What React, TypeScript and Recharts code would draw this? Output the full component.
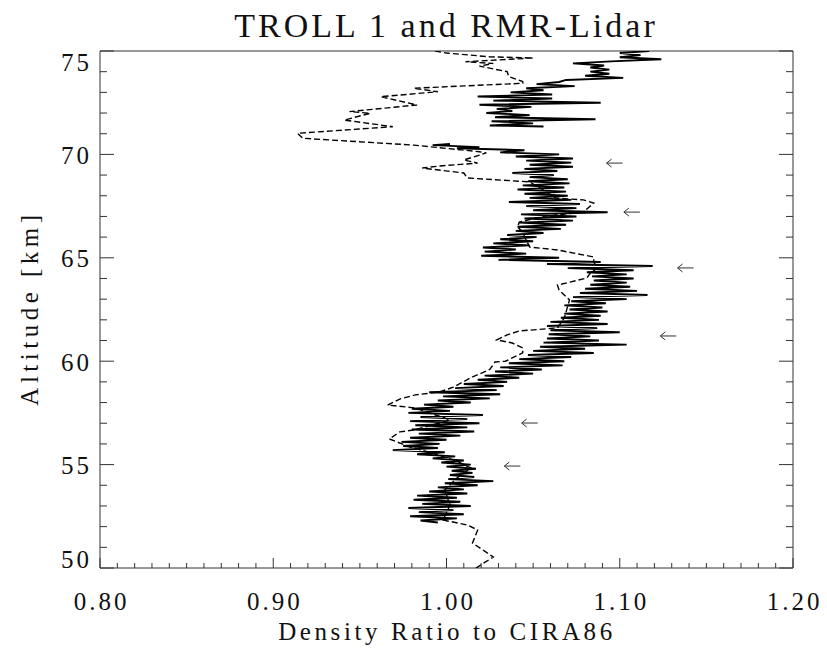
import React from "react";
import { ScatterChart, Scatter, XAxis, YAxis } from "recharts";

// [altitude km, density ratio] - RMR lidar profile (dashed)
const lidarProfile: [number, number][] = [
  [50.0, 1.017], [50.53, 1.027], [51.21, 1.015], [51.84, 1.018], [52.08, 1.012],
  [52.32, 0.998], [53.05, 1.002], [53.77, 0.999], [54.35, 1.006], [54.84, 1.014],
  [55.2, 1.005], [55.6, 0.99], [55.85, 0.979], [56.24, 0.967], [56.58, 0.973],
  [56.67, 0.981], [57.01, 0.996], [57.16, 1.002], [57.74, 0.982], [57.88, 0.966],
  [58.17, 0.973], [58.37, 0.982], [58.51, 0.996], [58.75, 1.004], [59.2, 1.014],
  [59.6, 1.025], [59.96, 1.028], [60.0, 1.034], [60.4, 1.044], [60.64, 1.044],
  [60.88, 1.038], [61.03, 1.029], [61.27, 1.035], [61.46, 1.042], [61.61, 1.064],
  [62.09, 1.068], [62.96, 1.071], [63.44, 1.065], [63.68, 1.064], [64.02, 1.081],
  [64.26, 1.083], [64.5, 1.087], [64.8, 1.085], [65.04, 1.085], [65.38, 1.064],
  [65.52, 1.048], [65.86, 1.046], [66.25, 1.044], [66.49, 1.041], [66.73, 1.042],
  [67.02, 1.057], [67.21, 1.079], [67.65, 1.085], [67.8, 1.079], [67.89, 1.063],
  [68.38, 1.054], [68.67, 1.048], [68.86, 1.012], [69.1, 1.01], [69.34, 0.986],
  [69.44, 0.996], [69.58, 1.018], [69.73, 1.01], [70.07, 1.023], [70.13, 1.019],
  [70.45, 0.981], [70.78, 0.917], [71.02, 0.914], [71.34, 0.969], [71.66, 0.941],
  [71.99, 0.956], [72.07, 0.944], [72.39, 0.983], [72.79, 0.962], [73.03, 0.995],
  [73.2, 0.981], [73.44, 1.044], [73.52, 1.044], [73.76, 1.036], [74.0, 1.035],
  [74.27, 1.019], [74.4, 1.027], [74.48, 1.011], [74.66, 1.05], [74.72, 1.025],
  [74.9, 1.0], [75.0, 0.993],
];

// TROLL 1 falling sphere, lower part (solid)
const trollLower: [number, number][] = [
  [52.2, 0.995], [52.3, 0.985], [52.4, 1.006], [52.5, 0.979], [52.6, 1.01],
  [52.7, 0.984], [52.8, 1.004], [52.9, 0.978], [53.0, 1.014], [53.1, 0.986],
  [53.2, 1.008], [53.3, 0.981], [53.4, 1.006], [53.5, 0.983], [53.6, 1.012],
  [53.7, 0.99], [53.8, 1.01], [53.9, 0.995], [54.0, 1.018], [54.1, 0.999],
  [54.2, 1.027], [54.3, 1.001], [54.4, 1.016], [54.5, 1.002], [54.6, 1.015],
  [54.7, 1.003], [54.8, 1.017], [54.9, 1.0], [55.0, 1.014], [55.1, 0.997],
  [55.2, 1.01], [55.3, 0.992], [55.4, 1.005], [55.5, 0.983], [55.6, 0.999],
  [55.7, 0.969], [55.8, 0.995], [55.9, 0.975], [56.0, 0.996], [56.1, 0.974],
  [56.2, 1.0], [56.3, 0.979], [56.4, 1.008], [56.5, 0.984], [56.6, 1.016],
  [56.7, 0.98], [56.8, 1.012], [56.9, 0.982], [57.0, 1.019], [57.1, 0.979],
  [57.2, 1.012], [57.3, 0.985], [57.4, 1.021], [57.5, 0.978], [57.6, 1.002],
  [57.7, 0.98], [57.8, 1.004], [57.9, 0.987], [58.0, 1.014], [58.1, 0.995],
  [58.2, 1.025], [58.3, 0.998], [58.4, 1.031], [58.5, 0.99], [58.6, 1.029],
  [58.7, 1.005], [58.8, 1.033], [58.9, 1.01], [59.0, 1.035], [59.1, 1.018],
  [59.2, 1.042], [59.3, 1.022], [59.4, 1.05], [59.5, 1.028], [59.6, 1.055],
  [59.7, 1.031], [59.8, 1.067], [59.9, 1.036], [60.0, 1.068], [60.1, 1.042],
  [60.2, 1.072], [60.3, 1.047], [60.4, 1.085], [60.5, 1.05], [60.6, 1.08],
  [60.7, 1.054], [60.8, 1.104], [60.9, 1.056], [61.0, 1.088], [61.1, 1.058],
  [61.2, 1.083], [61.3, 1.059], [61.4, 1.1], [61.5, 1.06], [61.6, 1.087],
  [61.7, 1.058], [61.8, 1.093], [61.9, 1.06], [62.0, 1.088], [62.1, 1.066],
  [62.2, 1.089], [62.3, 1.068], [62.4, 1.093], [62.5, 1.071], [62.6, 1.09],
  [62.7, 1.068], [62.8, 1.092], [62.9, 1.072], [63.0, 1.104], [63.1, 1.073],
  [63.2, 1.116], [63.3, 1.077], [63.4, 1.11], [63.5, 1.08], [63.6, 1.106],
  [63.7, 1.083], [63.8, 1.104], [63.9, 1.085], [64.0, 1.108], [64.1, 1.084],
  [64.2, 1.104], [64.3, 1.081], [64.4, 1.108], [64.5, 1.07], [64.6, 1.119],
  [64.7, 1.058], [64.8, 1.089], [64.9, 1.03], [65.0, 1.065], [65.1, 1.02],
  [65.2, 1.046], [65.3, 1.022], [65.4, 1.04], [65.5, 1.021], [65.6, 1.048],
  [65.7, 1.027], [65.8, 1.05], [65.9, 1.031], [66.0, 1.052], [66.1, 1.035],
  [66.2, 1.056], [66.3, 1.04], [66.4, 1.066], [66.5, 1.041], [66.6, 1.069],
  [66.7, 1.042], [66.8, 1.073], [66.9, 1.045], [67.0, 1.075], [67.1, 1.043],
  [67.2, 1.093], [67.3, 1.05], [67.4, 1.075], [67.5, 1.046], [67.6, 1.077],
  [67.7, 1.036], [67.8, 1.072], [67.9, 1.048], [68.0, 1.07], [68.1, 1.045],
  [68.2, 1.069], [68.3, 1.041], [68.4, 1.068], [68.5, 1.044], [68.6, 1.071],
  [68.7, 1.047], [68.8, 1.07], [68.9, 1.048], [69.0, 1.062], [69.1, 1.038],
  [69.2, 1.064], [69.3, 1.045], [69.4, 1.073], [69.5, 1.048], [69.6, 1.072],
  [69.7, 1.046], [69.8, 1.073], [69.9, 1.04], [70.0, 1.065], [70.1, 1.031],
  [70.2, 1.045], [70.3, 1.006], [70.35, 1.019], [70.45, 0.992], [70.5, 1.002],
];

// TROLL 1, upper part (solid)
const trollUpper: [number, number][] = [
  [71.35, 1.056], [71.4, 1.025], [71.5, 1.05], [71.6, 1.026], [71.7, 1.086],
  [71.8, 1.028], [71.9, 1.048], [72.0, 1.023], [72.1, 1.038], [72.2, 1.029],
  [72.3, 1.049], [72.4, 1.019], [72.5, 1.089], [72.6, 1.027], [72.7, 1.061],
  [72.8, 1.018], [72.9, 1.061], [73.0, 1.037], [73.1, 1.056], [73.2, 1.046],
  [73.3, 1.074], [73.4, 1.052], [73.5, 1.065], [73.6, 1.069], [73.7, 1.102],
  [73.8, 1.08], [73.9, 1.094], [74.0, 1.083], [74.1, 1.094], [74.2, 1.083],
  [74.3, 1.091], [74.4, 1.073], [74.5, 1.095], [74.6, 1.124], [74.7, 1.1],
  [74.8, 1.112], [74.9, 1.1], [75.0, 1.117],
];

// arrow markers [altitude, ratio]
const arrowMarks: [number, number][] = [
  [69.58, 1.097], [67.21, 1.107], [64.51, 1.138], [61.22, 1.128], [57.01, 1.048], [54.93, 1.038],
];

const xTicks = [
  0.8, 0.81, 0.82, 0.83, 0.84, 0.85, 0.86, 0.87, 0.88, 0.89,
  0.9, 0.91, 0.92, 0.93, 0.94, 0.95, 0.96, 0.97, 0.98, 0.99,
  1.0, 1.01, 1.02, 1.03, 1.04, 1.05, 1.06, 1.07, 1.08, 1.09,
  1.1, 1.11, 1.12, 1.13, 1.14, 1.15, 1.16, 1.17, 1.18, 1.19, 1.2,
];
const xLabels = [0.8, 0.9, 1.0, 1.1, 1.2];
const yTicks = [
  50, 51, 52, 53, 54, 55, 56, 57, 58, 59, 60, 61, 62,
  63, 64, 65, 66, 67, 68, 69, 70, 71, 72, 73, 74, 75,
];
const yLabels = [50, 55, 60, 65, 70, 75];

const W = 827;
const H = 648;
const INK = "#000";
const AXIS = "#333";
const FONT = "'Liberation Serif', 'DejaVu Serif', serif";

const toPts = (rows: [number, number][]) => rows.map(([alt, r]) => ({ alt, r }));
const isOn = (list: number[], v: number) => list.some((t) => Math.abs(t - v) < 1e-6);

const BottomTick = (p: any) => {
  const v = p.payload.value;
  const major = isOn(xLabels, v);
  return (
    <g>
      <line x1={p.x} x2={p.x} y1={p.y} y2={p.y - (major ? 10 : 5)} stroke={AXIS} />
      {major && (
        <text x={p.x + 1.5} y={p.y + 42} textAnchor="middle" fontFamily={FONT} fontSize={25}
          letterSpacing={3} fill="#111">
          {v.toFixed(2)}
        </text>
      )}
    </g>
  );
};

const TopTick = (p: any) => {
  const major = isOn(xLabels, p.payload.value);
  return <line x1={p.x} x2={p.x} y1={p.y} y2={p.y + (major ? 10 : 5)} stroke={AXIS} />;
};

const LeftTick = (p: any) => {
  const v = p.payload.value;
  const major = isOn(yLabels, v);
  const dy = v === 75 ? 20 : v === 50 ? 0 : 9.5;
  return (
    <g>
      <line x1={p.x} x2={p.x + (major ? 14 : 7)} y1={p.y} y2={p.y} stroke={AXIS} />
      {major && (
        <text x={p.x - 8} y={p.y + dy} textAnchor="end" fontFamily={FONT} fontSize={25}
          letterSpacing={3} fill="#111">
          {String(v)}
        </text>
      )}
    </g>
  );
};

const RightTick = (p: any) => {
  const major = isOn(yLabels, p.payload.value);
  return <line x1={p.x} x2={p.x - (major ? 14 : 7)} y1={p.y} y2={p.y} stroke={AXIS} />;
};

const Arrow = (p: any) => {
  const { cx, cy } = p;
  return (
    <g stroke="#333" strokeWidth={1} fill="none">
      <line x1={cx - 8} x2={cx + 8} y1={cy} y2={cy} />
      <polyline points={`${cx - 3},${cy - 4} ${cx - 8},${cy} ${cx - 3},${cy + 4}`} />
    </g>
  );
};

const NoDot = () => <g />;

export default function App() {
  return (
    <div style={{ position: "absolute", left: 0, top: 0, width: W, height: H, background: "#fff" }}>
      <ScatterChart width={W} height={H} margin={{ top: 50, right: 33, bottom: 79, left: 99 }}>
        <XAxis
          type="number"
          dataKey="r"
          domain={[0.8, 1.2]}
          allowDataOverflow
          ticks={xTicks}
          interval={0}
          height={1}
          tickSize={0}
          tickMargin={0}
          tickLine={false}
          axisLine={{ stroke: AXIS }}
          tick={BottomTick}
        />
        <XAxis
          xAxisId="top"
          orientation="top"
          type="number"
          domain={[0.8, 1.2]}
          allowDataOverflow
          ticks={xTicks}
          interval={0}
          height={1}
          tickSize={0}
          tickMargin={0}
          tickLine={false}
          axisLine={{ stroke: AXIS }}
          tick={TopTick}
        />
        <YAxis
          type="number"
          dataKey="alt"
          domain={[50, 75]}
          allowDataOverflow
          ticks={yTicks}
          interval={0}
          width={1}
          tickSize={0}
          tickMargin={0}
          tickLine={false}
          axisLine={{ stroke: AXIS }}
          tick={LeftTick}
        />
        <YAxis
          yAxisId="right"
          orientation="right"
          type="number"
          domain={[50, 75]}
          allowDataOverflow
          ticks={yTicks}
          interval={0}
          width={1}
          tickSize={0}
          tickMargin={0}
          tickLine={false}
          axisLine={{ stroke: AXIS }}
          tick={RightTick}
        />
        <Scatter
          data={toPts(lidarProfile)}
          fill={INK}
          shape={NoDot}
          line={{ stroke: INK, strokeWidth: 1.4, strokeDasharray: "6 3" }}
          isAnimationActive={false}
        />
        <Scatter
          data={toPts(trollLower)}
          fill={INK}
          shape={NoDot}
          line={{ stroke: INK, strokeWidth: 1.9 }}
          isAnimationActive={false}
        />
        <Scatter
          data={toPts(trollUpper)}
          fill={INK}
          shape={NoDot}
          line={{ stroke: INK, strokeWidth: 1.9 }}
          isAnimationActive={false}
        />
        <Scatter data={toPts(arrowMarks)} fill={INK} shape={Arrow} isAnimationActive={false} />
      </ScatterChart>
      <svg
        width={W}
        height={H}
        style={{ position: "absolute", left: 0, top: 0, pointerEvents: "none" }}
      >
        <text x={446} y={37} textAnchor="middle" fontFamily={FONT} fontSize={34}
          letterSpacing={3} fill="#111">
          TROLL 1 and RMR-Lidar
        </text>
        <text x={447} y={640} textAnchor="middle" fontFamily={FONT} fontSize={25}
          letterSpacing={3.6} fill="#111">
          Density Ratio to CIRA86
        </text>
        <text x={0} y={0} transform="translate(38,308) rotate(-90)" textAnchor="middle"
          fontFamily={FONT} fontSize={25} letterSpacing={4.5} fill="#111">
          Altitude [km]
        </text>
      </svg>
    </div>
  );
}
